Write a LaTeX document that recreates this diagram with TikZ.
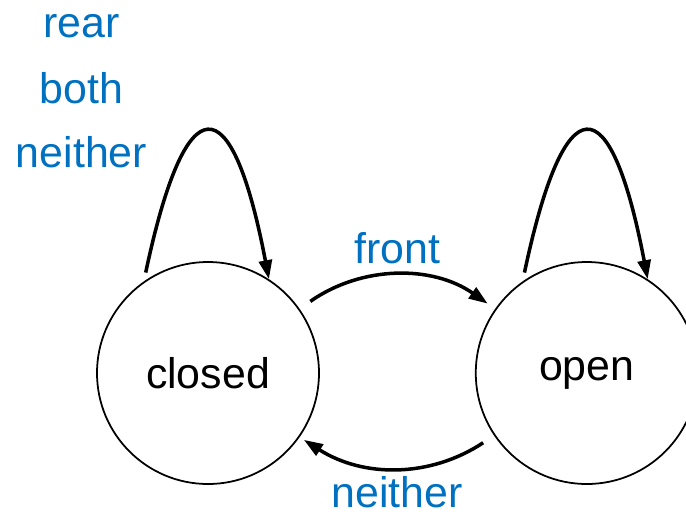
\documentclass[tikz,border=0pt]{standalone}
\usepackage{fontspec}
\setmainfont{Liberation Sans}
\usetikzlibrary{arrows.meta, positioning}
\definecolor{lblblue}{RGB}{0,112,192}
\tikzset{
  state/.style={circle, draw, line width=1pt, minimum size=4.44cm,
                inner sep=0pt, font=\fontsize{24.4}{29}\selectfont},
  arrow/.style={-{Triangle[length=0.38cm, width=0.26cm]}, line width=2pt},
  edgelabel/.style={text=lblblue, inner sep=0pt, anchor=base,
                    font=\fontsize{24.4}{29}\selectfont}
}

\begin{document}
\begin{tikzpicture}
    \clip (-4.16,-2.84) rectangle (9.56,7.46);
    \node[state] (closed) {closed};
    \node[state, right=3.1cm of closed] (open) {open};

    % self loops
    \draw[arrow, shorten <=0.18cm] (closed.125) .. controls +(0.84,3.96) and +(-0.75,3.92) .. (closed.57);
    \draw[arrow, shorten <=0.18cm] (open.125) .. controls +(0.84,3.96) and +(-0.75,3.92) .. (open.57);
    \node[edgelabel] (rearlbl) at (-2.53,6.7) {rear};
    \node[edgelabel] (bothlbl) at (-2.53,5.4) {both};
    \node[edgelabel] (neitherlbl) at (-2.53,4.12) {neither};

    \draw[arrow, shorten <=0.26cm, shorten >=0.18cm] (closed.35) to[bend left=35]
        node[edgelabel, midway, yshift=0.25cm] (frontlbl) {front} (open.145);
    \draw[arrow, shorten <=0.26cm, shorten >=0.1cm] (open.214) to[bend left=33]
        node[edgelabel, midway, yshift=-0.8cm] (backlbl) {neither} (closed.325);
\end{tikzpicture}
\end{document}
